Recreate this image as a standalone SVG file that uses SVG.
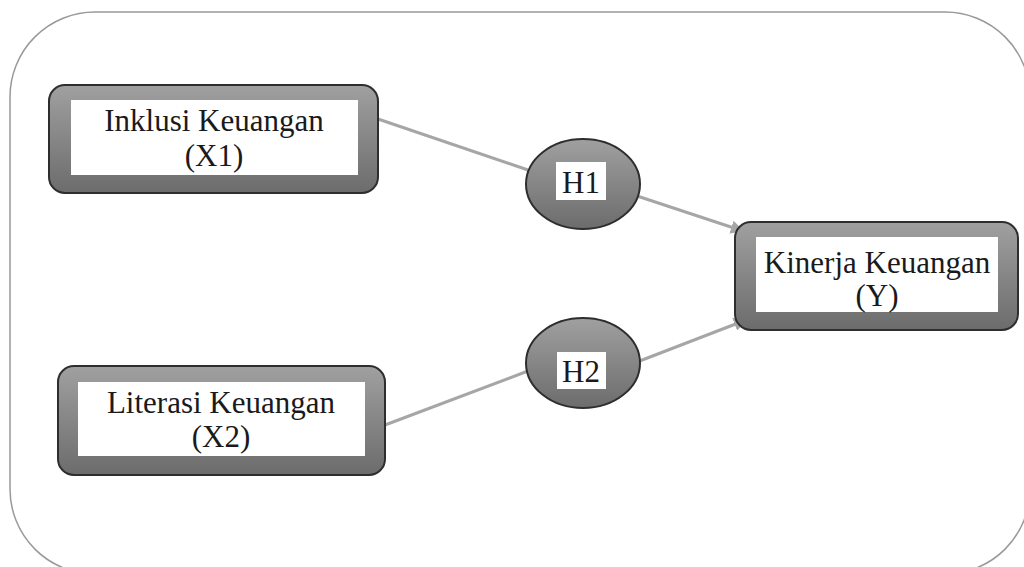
<svg xmlns="http://www.w3.org/2000/svg" width="1024" height="567" viewBox="0 0 1024 567">
<defs>
<linearGradient id="g" x1="0" y1="0" x2="0" y2="1">
<stop offset="0" stop-color="#a0a0a0"/>
<stop offset="1" stop-color="#6c6c6c"/>
</linearGradient>
<marker id="ah" viewBox="0 0 10 10" refX="9" refY="5" markerWidth="4.5" markerHeight="4.5" orient="auto" markerUnits="strokeWidth">
<path d="M0,0 L10,5 L0,10 z" fill="#a6a6a6"/>
</marker>
<style>
.outer{fill:url(#g);stroke:#2e2e2e;stroke-width:2}
.inner{fill:#fff}
.t{font-family:"Liberation Serif","Times New Roman",serif;font-size:31px;fill:#1a1a1a;text-anchor:middle}
.e{fill:url(#g);stroke:#2e2e2e;stroke-width:2}
.c{stroke:#a6a6a6;stroke-width:3;fill:none}
</style>
</defs>
<rect x="10" y="12" width="1020" height="562" rx="85" ry="85" fill="#fff" stroke="#999" stroke-width="1.5"/>
<g id="connectors">
<line class="c" x1="378" y1="119" x2="528" y2="170"/>
<line class="c" x1="625" y1="192" x2="743" y2="231" marker-end="url(#ah)"/>
<line class="c" x1="385" y1="425" x2="528" y2="371"/>
<line class="c" x1="637" y1="362" x2="746" y2="320" marker-end="url(#ah)"/>
</g>
<g id="x1">
<rect class="outer" x="49" y="85" width="329" height="108" rx="16"/>
<rect class="inner" x="71" y="100" width="287" height="75"/>
<text class="t" x="214" y="131">Inklusi Keuangan</text>
<text class="t" x="214" y="166">(X1)</text>
</g>
<g id="x2">
<rect class="outer" x="58" y="366" width="327" height="109" rx="16"/>
<rect class="inner" x="78" y="382" width="287" height="74"/>
<text class="t" x="221" y="413">Literasi Keuangan</text>
<text class="t" x="221" y="447">(X2)</text>
</g>
<g id="y">
<rect class="outer" x="735" y="222" width="283" height="108" rx="16"/>
<rect class="inner" x="756" y="237" width="242" height="75"/>
<text class="t" x="877" y="273">Kinerja Keuangan</text>
<text class="t" x="877" y="306">(Y)</text>
</g>
<g id="h1">
<ellipse class="e" cx="583" cy="184" rx="57" ry="45"/>
<rect class="inner" x="556" y="162" width="50" height="38"/>
<text class="t" x="581" y="193">H1</text>
</g>
<g id="h2">
<ellipse class="e" cx="583" cy="363" rx="57" ry="45"/>
<rect class="inner" x="557" y="352" width="49" height="37"/>
<text class="t" x="581" y="382">H2</text>
</g>
</svg>
